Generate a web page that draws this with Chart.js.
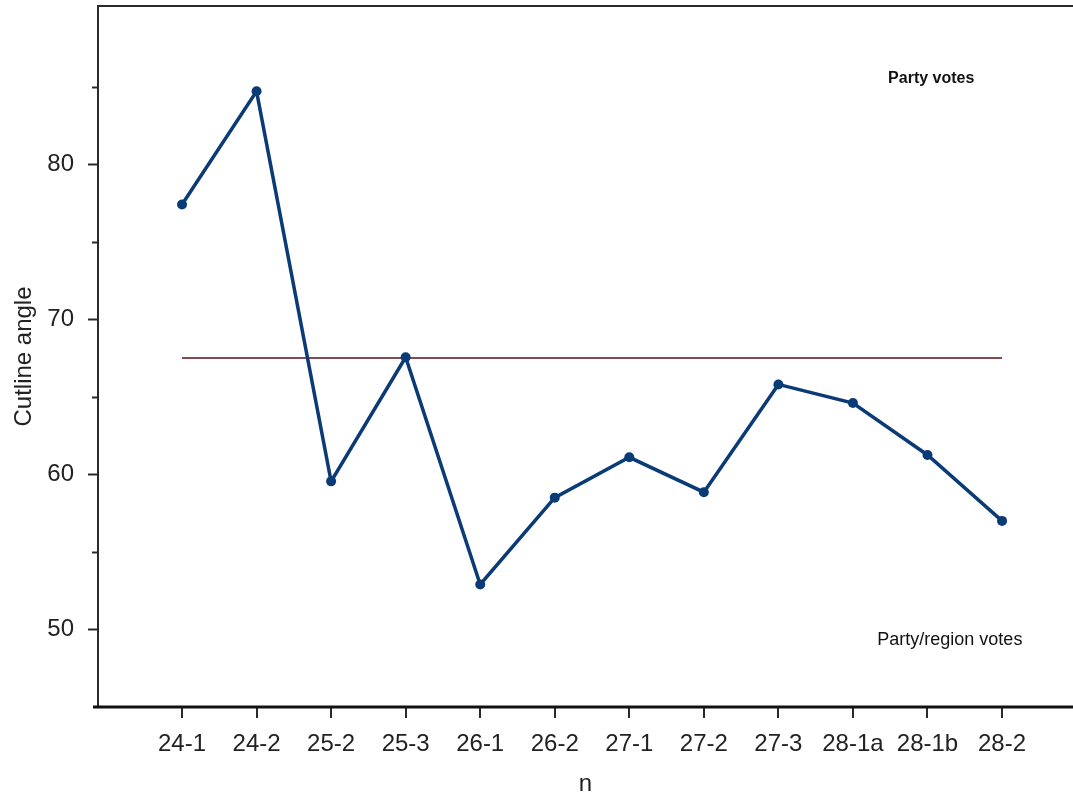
<!DOCTYPE html>
<html>
<head>
<meta charset="utf-8">
<title>Cutline angle</title>
<script src="https://cdn.jsdelivr.net/npm/chart.js@4/dist/chart.umd.min.js"></script>
<style>
  html, body { margin: 0; padding: 0; background: #fff; }
  #wrap { width: 1073px; height: 801px; position: relative; }
</style>
</head>
<body>
<div id="wrap"><canvas id="cutline"></canvas></div>
<script>
  // Sessions on the x axis
  const SESSIONS = ['24-1', '24-2', '25-2', '25-3', '26-1', '26-2', '27-1', '27-2', '27-3', '28-1a', '28-1b', '28-2'];

  // Cutline angle per session
  const ANGLES = [77.4, 84.7, 59.55, 67.55, 52.9, 58.5, 61.1, 58.85, 65.8, 64.6, 61.25, 57.0];

  // Horizontal reference line
  const REFERENCE = [67.5, 67.5, 67.5, 67.5, 67.5, 67.5, 67.5, 67.5, 67.5, 67.5, 67.5, 67.5];

  const Y_TICKS = [50, 55, 60, 65, 70, 75, 80, 85];

  const FONT = "'Liberation Sans', Arial, sans-serif";
  const INK = '#222';
  const LINE_BLUE = '#0b3b76';
  const REF_RED = '#5c1016';

  // Text labels placed in data coordinates
  const NOTES = [
    { text: 'Party votes', x: 10.05, y: 85.55, font: 'bold 16px ' + FONT },
    { text: 'Party/region votes', x: 10.3, y: 49.3, font: '18px ' + FONT },
  ];

  // Axis frame, tick marks and text notes
  const frame = {
    id: 'frame',
    afterDraw(chart) {
      const { ctx, chartArea: a, scales: { x, y } } = chart;
      ctx.save();
      ctx.strokeStyle = '#2a2a2a';
      ctx.lineWidth = 2;
      ctx.beginPath();
      ctx.moveTo(a.left, a.bottom);
      ctx.lineTo(a.left, a.top);
      ctx.lineTo(a.right, a.top);
      ctx.stroke();

      y.ticks.forEach((t) => {
        const py = Math.round(y.getPixelForValue(t.value)) + 0.5;
        const len = t.value % 10 === 0 ? 10 : 6;
        ctx.beginPath();
        ctx.moveTo(a.left - len, py);
        ctx.lineTo(a.left, py);
        ctx.stroke();
      });

      x.ticks.forEach((t) => {
        const px = Math.round(x.getPixelForValue(t.value));
        ctx.beginPath();
        ctx.moveTo(px, a.bottom);
        ctx.lineTo(px, a.bottom + 11);
        ctx.stroke();
      });

      ctx.strokeStyle = '#111';
      ctx.lineWidth = 3;
      ctx.beginPath();
      ctx.moveTo(a.left - 5, a.bottom);
      ctx.lineTo(a.right, a.bottom);
      ctx.stroke();

      ctx.fillStyle = '#111';
      ctx.textAlign = 'center';
      ctx.textBaseline = 'middle';
      NOTES.forEach((n) => {
        ctx.font = n.font;
        ctx.fillText(n.text, x.getPixelForValue(n.x), y.getPixelForValue(n.y));
      });
      ctx.restore();
    },
  };

  new Chart(document.getElementById('cutline'), {
    type: 'line',
    data: {
      datasets: [
        {
          label: 'Cutline angle',
          data: ANGLES.map((v, i) => ({ x: i, y: v })),
          borderColor: LINE_BLUE,
          backgroundColor: LINE_BLUE,
          borderWidth: 3.5,
          pointRadius: 5,
          pointBorderWidth: 0,
          pointBackgroundColor: LINE_BLUE,
          tension: 0,
          fill: false,
        },
        {
          label: 'Reference',
          data: REFERENCE.map((v, i) => ({ x: i, y: v })),
          borderColor: REF_RED,
          borderWidth: 1.5,
          pointRadius: 0,
          tension: 0,
          fill: false,
        },
      ],
    },
    options: {
      responsive: true,
      maintainAspectRatio: false,
      animation: false,
      layout: { autoPadding: false, padding: { top: 6, right: 0, left: 0, bottom: 0 } },
      plugins: {
        legend: { display: false },
        tooltip: { enabled: false },
      },
      scales: {
        x: {
          type: 'linear',
          min: -1.127,
          max: 11.952,
          afterBuildTicks: (scale) => {
            scale.ticks = SESSIONS.map((_, i) => ({ value: i }));
          },
          afterFit: (scale) => {
            scale.height = 94;
            scale.paddingLeft = 0;
            scale.paddingRight = 0;
          },
          border: { display: false },
          grid: { drawOnChartArea: false, drawTicks: true, tickLength: 11, tickColor: 'transparent' },
          ticks: {
            autoSkip: false,
            maxRotation: 0,
            padding: 12,
            color: INK,
            font: { family: FONT, size: 24 },
            callback: (v) => SESSIONS[v],
          },
          title: {
            display: true,
            text: 'n',
            color: INK,
            font: { family: FONT, size: 24 },
            padding: { top: 0, bottom: 2 },
          },
        },
        y: {
          min: 45,
          max: 90.2,
          afterBuildTicks: (scale) => {
            scale.ticks = Y_TICKS.map((v) => ({ value: v }));
          },
          afterFit: (scale) => {
            scale.width = 98;
            scale.paddingTop = 0;
            scale.paddingBottom = 0;
          },
          border: { display: false },
          grid: { drawOnChartArea: false, drawTicks: true, tickLength: 10, tickColor: 'transparent' },
          ticks: {
            padding: 14,
            color: INK,
            font: { family: FONT, size: 24 },
            callback: (v) => (v % 10 === 0 ? String(v) : ''),
          },
          title: {
            display: true,
            text: 'Cutline angle',
            color: INK,
            font: { family: FONT, size: 24 },
            padding: { top: 10, bottom: 0 },
          },
        },
      },
    },
    plugins: [frame],
  });
</script>
</body>
</html>
